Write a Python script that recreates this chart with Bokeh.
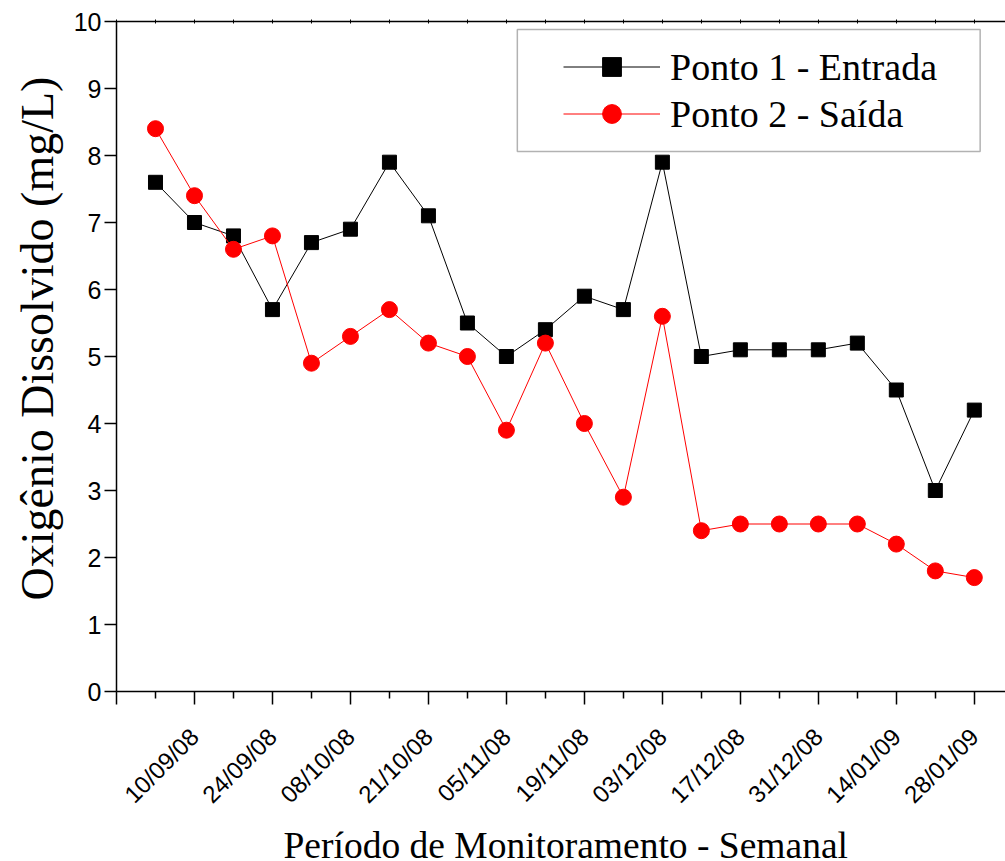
import math
from bokeh.plotting import figure
from bokeh.models import (FixedTicker, LinearAxis, Legend, LegendItem, BoxAnnotation, Title, Range1d)
from bokeh.embed import file_html
from bokeh.resources import INLINE

# ---- data ----
tick_labels = ["10/09/08", "24/09/08", "08/10/08", "21/10/08", "05/11/08", "19/11/08",
               "03/12/08", "17/12/08", "31/12/08", "14/01/09", "28/01/09"]
ponto1 = [7.6, 7.0, 6.8, 5.7, 6.7, 6.9, 7.9, 7.1, 5.5, 5.0, 5.4, 5.9, 5.7, 7.9,
          5.0, 5.1, 5.1, 5.1, 5.2, 4.5, 3.0, 4.2]
ponto2 = [8.4, 7.4, 6.6, 6.8, 4.9, 5.3, 5.7, 5.2, 5.0, 3.9, 5.2, 4.0, 2.9, 5.6,
          2.4, 2.5, 2.5, 2.5, 2.5, 2.2, 1.8, 1.7]
x = list(range(len(ponto1)))

SERIF = "Liberation Serif"
SANS = "Liberation Sans"

p = figure(width=1005, height=861, output_backend="svg", toolbar_location=None,
           x_range=Range1d(-1, 21.8), y_range=Range1d(0, 10),
           x_axis_location=None, y_axis_location=None,
           min_border_left=116, min_border_right=0, min_border_top=21, min_border_bottom=170)
p.outline_line_color = None
p.xgrid.visible = False
p.ygrid.visible = False
p.background_fill_color = "white"
p.border_fill_color = "white"

# bottom axis
major = [-1] + [2 * i + 1 for i in range(len(tick_labels))]
minor = [2 * i for i in range(len(tick_labels))]
xaxis = LinearAxis(ticker=FixedTicker(ticks=major, minor_ticks=minor))
xaxis.major_label_overrides = {-1: ""}
xaxis.major_label_overrides.update({2 * i + 1: lab for i, lab in enumerate(tick_labels)})
xaxis.major_label_orientation = math.pi / 4
xaxis.major_label_text_font = SANS
xaxis.major_label_text_font_size = "24px"
xaxis.major_label_text_color = "black"
xaxis.major_label_standoff = 28
xaxis.major_tick_in = 0
xaxis.major_tick_out = 13
xaxis.minor_tick_in = 0
xaxis.minor_tick_out = 7
xaxis.axis_line_width = 1.5
xaxis.major_tick_line_width = 1.5
xaxis.minor_tick_line_width = 1.5
# tiny blank axis label used only to push the title down a little
xaxis.axis_label = " "
xaxis.axis_label_text_font_size = "1px"
xaxis.axis_label_standoff = 9
p.add_layout(xaxis, "below")

xtitle = Title(text="Período de Monitoramento - Semanal", align="left", offset=167,
               vertical_align="top", text_font=SERIF, text_font_size="37.5px",
               text_font_style="normal", text_color="black", standoff=-18)
p.add_layout(xtitle, "below")

# top axis (ticks only)
top = LinearAxis(ticker=FixedTicker(ticks=list(range(-1, 22)), minor_ticks=[]))
top.major_label_text_font_size = "0px"
top.major_label_standoff = 0
top.major_tick_in = 2
top.major_tick_out = 2
top.axis_line_width = 1.5
p.add_layout(top, "above")

# left axis
yaxis = LinearAxis(ticker=FixedTicker(ticks=list(range(0, 11)), minor_ticks=[]))
yaxis.major_label_text_font = SANS
yaxis.major_label_text_font_size = "25px"
yaxis.major_label_text_color = "black"
yaxis.major_label_standoff = 3
yaxis.major_tick_in = 0
yaxis.major_tick_out = 12
yaxis.axis_line_width = 1.5
yaxis.major_tick_line_width = 1.5
p.add_layout(yaxis, "left")

ytitle = Title(text="Oxigênio Dissolvido (mg/L)", align="left", offset=91,
               text_font=SERIF, text_font_size="46px", text_font_style="normal",
               text_color="black", text_line_height=1.0, standoff=16)
p.add_layout(ytitle, "left")

# series
l1 = p.line(x, ponto1, line_color="black", line_width=1)
s1 = p.scatter(x, ponto1, marker="square", size=14, fill_color="black", line_color="black")
l2 = p.line(x, ponto2, line_color="red", line_width=1)
s2 = p.scatter(x, ponto2, marker="circle", size=16, fill_color="red", line_color="red")

# legend frame
box = BoxAnnotation(left=9.28, right=21.15, bottom=8.06, top=9.88,
                    fill_alpha=0, line_color="black", line_width=1.5)
p.add_layout(box)

legend = Legend(items=[LegendItem(label="Ponto 1 - Entrada", renderers=[l1, s1]),
                       LegendItem(label="Ponto 2 - Saída", renderers=[l2, s2])],
                location=(447, 554), padding=0, margin=0, spacing=0,
                glyph_width=97, glyph_height=47, label_height=47, label_standoff=10,
                label_text_font=SERIF, label_text_font_size="38px", label_text_color="black",
                border_line_color=None, background_fill_alpha=0)
p.add_layout(legend, "center")

open("out.html", "w").write(file_html(p, INLINE))
